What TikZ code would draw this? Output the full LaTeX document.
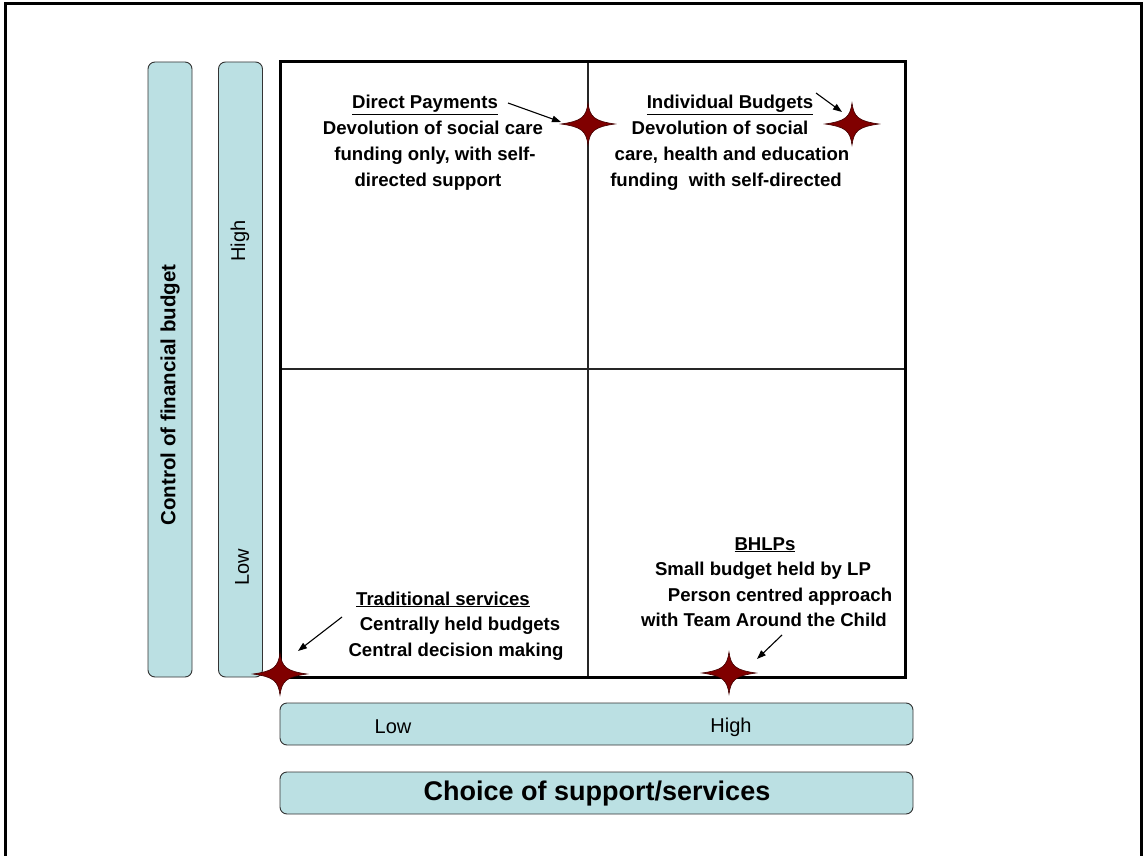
\documentclass[tikz,border=0pt]{standalone}
\usepackage{fontspec}
\setmainfont{Liberation Sans}
\usetikzlibrary{arrows.meta}
\definecolor{barfill}{RGB}{187,224,227}
\definecolor{starred}{RGB}{128,0,0}
\begin{document}
\begin{tikzpicture}[x=1pt,y=-1pt,
 bar/.style={draw=black!80,line width=0.9pt,fill=barfill,rounded corners=7pt},
 lbl/.style={font=\fontsize{18.6}{22}\selectfont\bfseries,anchor=base,inner sep=0pt},
 axislbl/.style={font=\fontsize{20}{24}\selectfont,inner sep=0pt},
 ptr/.style={line width=1.1pt,-{Triangle[length=9pt,width=6.5pt]}},
 starshape/.style={fill=starred,draw=black!50!starred,line width=0.6pt}]
\useasboundingbox (0,0) rectangle (1144,856);
% outer frame
\draw[line width=3pt] (5,856) -- (5,4) -- (1141,4) -- (1141,856);
% axis bars
\node[bar,minimum width=44pt,minimum height=615pt,inner sep=0pt] (barC) at (170,369.5) {};
\node[bar,minimum width=44pt,minimum height=615pt,inner sep=0pt] (barLH) at (240.5,369.5) {};
\node[bar,minimum width=633pt,minimum height=42pt,inner sep=0pt] (barX) at (596.5,724) {};
\node[bar,minimum width=633pt,minimum height=42pt,inner sep=0pt] (barCh) at (596.5,793) {};
\node[font=\fontsize{20.5}{24}\selectfont\bfseries,rotate=90,inner sep=0pt] (ctrl) at (170,395) {Control of financial budget};
\node[axislbl,rotate=90] (yhigh) at (240,241) {High};
\node[axislbl,rotate=90] (ylow) at (242,567) {Low};
\node[axislbl] (xlow) at (393,727) {Low};
\node[axislbl] (xhigh) at (731,727) {High};
\node[font=\fontsize{27}{30}\selectfont\bfseries,inner sep=0pt] (choice) at (597,794) {Choice of support/services};
% matrix
\coordinate (tl) at (280,62);
\coordinate (br) at (905,677);
\draw[line width=1.6pt,black!85] (588,62) -- (588,677);
\draw[line width=1.6pt,black!85] (280,369) -- (905,369);
\draw[line width=3pt] (tl) rectangle (br);
% stars
\coordinate (sDP) at (588,124);
\coordinate (sIB) at (852,124);
\coordinate (sTS) at (280,674);
\coordinate (sBH) at (729,673);
\foreach \s in {sDP,sIB,sTS,sBH}{
  \path[starshape,shift={(\s)}] (0,-21) .. controls (2,-7) and (6,-3) .. (27,0)
     .. controls (6,3) and (2,7) .. (0,21)
     .. controls (-2,7) and (-6,3) .. (-27,0)
     .. controls (-6,-3) and (-2,-7) .. (0,-21) -- cycle;
}
% Direct Payments
\node[lbl] (dp1) at (425,109) {\underline{Direct Payments}};
\node[lbl] (dp2) at (433,135) {Devolution of social care};
\node[lbl] (dp3) at (435,161) {funding only, with self-};
\node[lbl] (dp4) at (428,187) {directed support};
% Individual Budgets
\node[lbl] (ib1) at (730,109) {\underline{Individual Budgets}};
\node[lbl] (ib2) at (720,135) {Devolution of social};
\node[lbl] (ib3) at (732,161) {care, health and education};
\node[lbl] (ib4) at (726,187) {funding\ \ with self-directed};
% Traditional services
\node[lbl] (ts1) at (443,605) {\underline{Traditional services}};
\node[lbl] (ts2) at (460,630) {Centrally held budgets};
\node[lbl] (ts3) at (456,656) {Central decision making};
% BHLPs
\node[lbl] (bh1) at (765,550) {\underline{BHLPs}};
\node[lbl] (bh2) at (763,575) {Small budget held by LP};
\node[lbl] (bh3) at (780,601) {Person centred approach};
\node[lbl] (bh4) at (764,626) {with Team Around the Child};
% arrows
\coordinate (aDP) at (508,103);
\coordinate (eDP) at (561,122);
\coordinate (aIB) at (816,93);
\coordinate (eIB) at (842,112);
\coordinate (aTS) at (342,617);
\coordinate (eTS) at (298,651);
\coordinate (aBH) at (782,635);
\coordinate (eBH) at (757,659);
\draw[ptr] (aDP) -- (eDP);
\draw[ptr] (aIB) -- (eIB);
\draw[ptr] (aTS) -- (eTS);
\draw[ptr] (aBH) -- (eBH);
\end{tikzpicture}
\end{document}
